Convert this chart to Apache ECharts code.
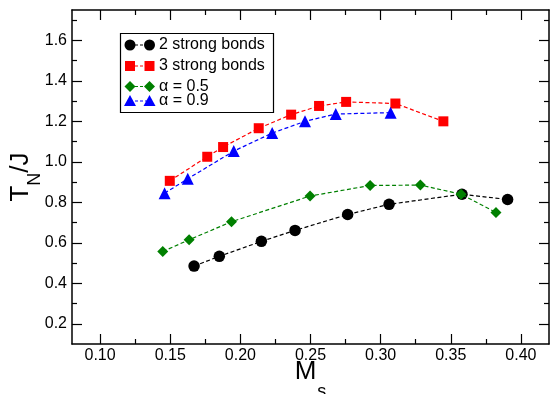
<!DOCTYPE html>
<html>
<head>
<meta charset="utf-8">
<script src="https://cdn.jsdelivr.net/npm/echarts@6/dist/echarts.min.js"></script>
<style>
  html, body { margin: 0; padding: 0; background: #fff; }
  #chart { width: 551px; height: 394px; }
</style>
</head>
<body>
<div id="chart"></div>
<script>
// Néel temperature T_N/J against staggered magnetisation M_s
const twoBondsX   = [0.167, 0.185, 0.215, 0.239, 0.2765, 0.306, 0.358, 0.3905];
const twoBondsY   = [0.485, 0.533, 0.607, 0.661, 0.740, 0.790, 0.840, 0.814];
const threeBondsX = [0.1497, 0.1764, 0.1877, 0.2131, 0.2362, 0.2561, 0.2754, 0.3105, 0.3447];
const threeBondsY = [0.906, 1.025, 1.073, 1.166, 1.233, 1.276, 1.296, 1.288, 1.200];
const alpha05X    = [0.1447, 0.1635, 0.1937, 0.2497, 0.2925, 0.3283, 0.3573, 0.3822];
const alpha05Y    = [0.557, 0.615, 0.704, 0.831, 0.883, 0.885, 0.840, 0.750];
const alpha09X    = [0.146, 0.1625, 0.1953, 0.2227, 0.2461, 0.2680, 0.3071];
const alpha09Y    = [0.845, 0.916, 1.053, 1.142, 1.200, 1.236, 1.243];

const seriesNames = ['2 strong bonds', '3 strong bonds', 'α = 0.5', 'α = 0.9'];

const xMajorTicks = [0.10, 0.15, 0.20, 0.25, 0.30, 0.35, 0.40];
const xMinorTicks = [0.125, 0.175, 0.225, 0.275, 0.325, 0.375];
const yMajorTicks = [0.2, 0.4, 0.6, 0.8, 1.0, 1.2, 1.4, 1.6];
const yMinorTicks = [0.3, 0.5, 0.7, 0.9, 1.1, 1.3, 1.5, 1.7];

const FONT = "'Liberation Sans', Arial, Helvetica, sans-serif";
const X_MIN = 0.08, X_MAX = 0.42, Y_MIN = 0.1, Y_MAX = 1.75;

const pairs = (xs, ys) => xs.map((x, i) => [x, ys[i]]);

function makeAxis(dim, position, ticks, tickLen, withLine, withLabels) {
  const ax = {
    type: 'value',
    position: position,
    min: dim === 'x' ? X_MIN : Y_MIN,
    max: dim === 'x' ? X_MAX : Y_MAX,
    axisLine: { show: withLine, onZero: false, lineStyle: { color: '#000', width: 1.5 } },
    axisTick: { show: true, inside: true, length: tickLen, customValues: ticks,
                lineStyle: { color: '#000', width: 1.2 } },
    axisLabel: { show: false },
    splitLine: { show: false },
    axisPointer: { show: false }
  };
  if (withLabels) {
    ax.axisLabel = {
      show: true, customValues: ticks, color: '#000', fontFamily: FONT, fontSize: 16,
      margin: dim === 'x' ? 4 : 5,
      formatter: v => dim === 'x' ? v.toFixed(2) : v.toFixed(1)
    };
  }
  return ax;
}

const xAxes = [
  makeAxis('x', 'bottom', xMajorTicks, 10, true, true),
  makeAxis('x', 'bottom', xMinorTicks, 5, false, false),
  makeAxis('x', 'top', xMajorTicks, 10, true, false),
  makeAxis('x', 'top', xMinorTicks, 5, false, false)
];
const yAxes = [
  makeAxis('y', 'left', yMajorTicks, 10, true, true),
  makeAxis('y', 'left', yMinorTicks, 5, false, false),
  makeAxis('y', 'right', yMajorTicks, 10, true, false),
  makeAxis('y', 'right', yMinorTicks, 5, false, false)
];

xAxes[0].name = '{b|M}{sub|s}';
xAxes[0].nameLocation = 'middle';
xAxes[0].nameGap = 22;
xAxes[0].nameMoveOverlap = false;
xAxes[0].nameTextStyle = {
  color: '#000', fontFamily: FONT,
  rich: {
    b:   { fontSize: 26, fontFamily: FONT, color: '#000', lineHeight: 28, padding: [0, 0, 16, 0] },
    sub: { fontSize: 18, fontFamily: FONT, color: '#000', lineHeight: 20, padding: [24, 0, 0, 1] }
  }
};

yAxes[0].name = '{b|T}{sub|N}{b|/J}';
yAxes[0].nameLocation = 'middle';
yAxes[0].nameGap = 32;
yAxes[0].nameMoveOverlap = false;
yAxes[0].nameTextStyle = {
  color: '#000', fontFamily: FONT,
  rich: {
    b:   { fontSize: 26, fontFamily: FONT, color: '#000', lineHeight: 28, padding: [0, 0, 10, 0] },
    sub: { fontSize: 18, fontFamily: FONT, color: '#000', lineHeight: 20, padding: [18, 0, 0, 0] }
  }
};

const styles = [
  { color: '#000000', symbol: 'circle',   size: 11.5 },
  { color: '#ff0000', symbol: 'rect',     size: 10 },
  { color: '#008000', symbol: 'diamond',  size: 11 },
  { color: '#0000ff', symbol: 'triangle', size: 12 }
];
const seriesData = [
  pairs(twoBondsX, twoBondsY),
  pairs(threeBondsX, threeBondsY),
  pairs(alpha05X, alpha05Y),
  pairs(alpha09X, alpha09Y)
];

const series = seriesNames.map((name, i) => ({
  name: name,
  type: 'line',
  xAxisIndex: 0,
  yAxisIndex: 0,
  data: seriesData[i],
  symbol: styles[i].symbol,
  symbolSize: styles[i].size,
  itemStyle: { color: styles[i].color },
  lineStyle: { color: styles[i].color, width: 1.2, type: [4, 2.5] },
  z: 2 + i,
  animation: false
}));

// Legend drawn as a boxed key: symbol – dash – symbol, then the label
const legendRowsY = [45, 66, 86.5, 101];
const legendGraphics = [{
  type: 'rect', shape: { x: 120.5, y: 33.5, width: 153, height: 79 },
  style: { fill: '#fff', stroke: '#000', lineWidth: 1.2 }, z: 100
}];
function legendSymbol(kind, cx, cy, color) {
  if (kind === 'circle') return { type: 'circle', shape: { cx, cy, r: 5.5 }, style: { fill: color }, z: 101 };
  if (kind === 'rect') return { type: 'rect', shape: { x: cx - 5, y: cy - 5, width: 10, height: 10 }, style: { fill: color }, z: 101 };
  if (kind === 'diamond') return { type: 'polygon', shape: { points: [[cx, cy - 5.5], [cx + 5.5, cy], [cx, cy + 5.5], [cx - 5.5, cy]] }, style: { fill: color }, z: 101 };
  return { type: 'polygon', shape: { points: [[cx, cy - 6], [cx + 6, cy + 5], [cx - 6, cy + 5]] }, style: { fill: color }, z: 101 };
}
seriesNames.forEach((name, i) => {
  const cy = legendRowsY[i];
  const c = styles[i].color;
  legendGraphics.push({
    type: 'line', shape: { x1: 130, y1: cy, x2: 149, y2: cy },
    style: { stroke: c, lineWidth: 1.2, lineDash: [3, 2] }, z: 101
  });
  legendGraphics.push(legendSymbol(styles[i].symbol, 130, cy, c));
  legendGraphics.push(legendSymbol(styles[i].symbol, 149.5, cy, c));
  legendGraphics.push({
    type: 'text', x: 159, y: cy,
    style: { text: name, fill: '#000', font: '16px ' + FONT, textVerticalAlign: 'middle' }, z: 101
  });
});

const chart = echarts.init(document.getElementById('chart'), null, { renderer: 'canvas' });
chart.setOption({
  animation: false,
  backgroundColor: '#fff',
  grid: { left: 72, right: 2, top: 10, bottom: 50, containLabel: false, outerBoundsMode: 'none' },
  xAxis: xAxes,
  yAxis: yAxes,
  series: series,
  graphic: legendGraphics
});
</script>
</body>
</html>
